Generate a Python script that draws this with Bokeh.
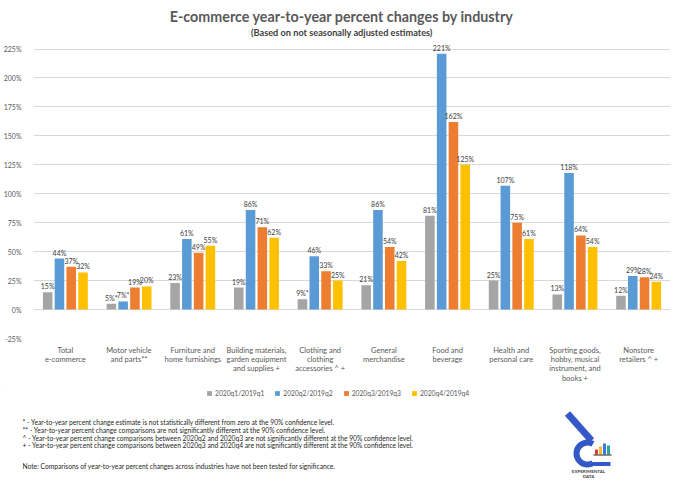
from bokeh.plotting import figure
from bokeh.layouts import column
from bokeh.models import (ColumnDataSource, FactorRange, FixedTicker, Legend,
                          LegendItem, PrintfTickFormatter, Range1d)
from bokeh.transform import dodge
from bokeh.core.properties import value
from bokeh.embed import file_html
from bokeh.resources import INLINE

# categories (tick labels, with the footnote marks of the source)
industries = [
    "Total\ne-commerce",
    "Motor vehicle\nand parts**",
    "Furniture and\nhome furnishings",
    "Building materials,\ngarden equipment\nand supplies +",
    "Clothing and\nclothing\naccessories ^ +",
    "General\nmerchandise",
    "Food and\nbeverage",
    "Health and\npersonal care",
    "Sporting goods,\nhobby, musical\ninstrument, and\nbooks +",
    "Nonstore\nretailers ^ +",
]
periods = ["2020q1/2019q1", "2020q2/2019q2", "2020q3/2019q3", "2020q4/2019q4"]

# percent changes
q1 = [15, 5, 23, 19, 9, 21, 81, 25, 13, 12]
q2 = [44, 7, 61, 86, 46, 86, 221, 107, 118, 29]
q3 = [37, 19, 49, 71, 33, 54, 162, 75, 64, 28]
q4 = [32, 20, 55, 62, 25, 42, 125, 61, 54, 24]

# "*" = not statistically different from zero
q1_marks = ["", "*", "", "", "*", "", "", "", "", ""]
q2_marks = ["", "*", "", "", "", "", "", "", "", ""]
q3_marks = [""] * 10
q4_marks = [""] * 10

y_ticks = [-25, 0, 25, 50, 75, 100, 125, 150, 175, 200, 225]

title = "E-commerce year-to-year percent changes by industry"
subtitle = "(Based on not seasonally adjusted estimates)"
notes = [
    "* - Year-to-year percent change estimate is not statistically different from zero at the 90% confidence level.",
    "** - Year-to-year percent change comparisons are not significantly different at the 90% confidence level.",
    "^ - Year-to-year percent change comparisons between 2020q2 and 2020q3 are not significantly different at the 90% confidence level.",
    "+ - Year-to-year percent change comparisons between 2020q3 and 2020q4 are not significantly different at the 90% confidence level.",
    "Note: Comparisons of year-to-year percent changes across industries have not been tested for significance.",
]

FONT = "Lato"
colors = ["#A5A5A5", "#5B9BD5", "#ED7D31", "#FFC000"]
offsets = [-0.2775, -0.0925, 0.0925, 0.2775]

data = {"industry": industries}
keys = ["q1", "q2", "q3", "q4"]
for k, vals, marks in zip(keys, [q1, q2, q3, q4], [q1_marks, q2_marks, q3_marks, q4_marks]):
    data[k] = vals
    data[k + "_lbl"] = [f"{v}%{m}" for v, m in zip(vals, marks)]
src = ColumnDataSource(data)

W = 680
H1 = 386
p = figure(x_range=FactorRange(*industries, range_padding=0),
           y_range=Range1d(-25, 266.9),
           width=W, height=H1,
           min_border_left=30, min_border_right=10, min_border_top=0, min_border_bottom=48,
           toolbar_location=None, output_backend="svg")
p.outline_line_color = None
p.frame_align = False

for k, c, off in zip(keys, colors, offsets):
    x = dodge("industry", off, range=p.x_range)
    p.vbar(x=x, top=k, bottom=0, width=0.15, source=src,
           fill_color=c, line_color=None)
    p.text(x=x, y=k, text=k + "_lbl", source=src, text_align="center",
           text_baseline="bottom", y_offset=-2, text_font=value(FONT),
           text_font_size="7px", text_color="#404040")

# titles
p.text(x=[4.84], y=[253.1], text=[title], text_align="center", text_baseline="middle",
       text_font=value(FONT), text_font_size="14.3px", text_font_style="bold",
       text_color="#595959")
p.text(x=[4.84], y=[239.2], text=[subtitle], text_align="center", text_baseline="middle",
       text_font=value(FONT), text_font_size="9.2px", text_font_style="bold",
       text_color="#404040")

p.yaxis.ticker = FixedTicker(ticks=y_ticks)
p.yaxis.formatter = PrintfTickFormatter(format="%d%%")
p.yaxis.axis_line_color = None
p.yaxis.major_tick_line_color = None
p.yaxis.minor_tick_line_color = None
p.yaxis.major_label_standoff = 6
p.yaxis.major_label_text_font = FONT
p.yaxis.major_label_text_font_size = "7px"
p.yaxis.major_label_text_color = "#595959"

p.xaxis.axis_line_color = None
p.xaxis.major_tick_line_color = None
p.xaxis.major_label_standoff = 1
p.xaxis.major_label_text_font = FONT
p.xaxis.major_label_text_font_size = "7.5px"
p.xaxis.major_label_text_line_height = 1.05
p.xaxis.major_label_text_color = "#595959"

p.xgrid.visible = False
p.ygrid.grid_line_color = "#D9D9D9"

# legend, footnotes and logo
H2 = 483 - H1
n = figure(width=W, height=H2, x_range=Range1d(0, W), y_range=Range1d(483, H1),
           x_axis_location=None, y_axis_location=None, min_border=0,
           toolbar_location=None, output_backend="svg")
n.grid.visible = False
n.outline_line_color = None
n.frame_align = False

# one swatch per series for the legend, parked outside the view
swatch = ColumnDataSource(dict(x=[-100], top=[-100]))
items = []
for name, c in zip(periods, colors):
    r = n.vbar(x="x", top="top", bottom=-101, width=1, source=swatch,
               fill_color=c, line_color=None)
    items.append(LegendItem(label=name, renderers=[r]))
legend = Legend(items=items, orientation="horizontal", location=(206, H2 - 11),
                label_text_font=FONT, label_text_font_size="6.7px",
                label_text_color="#595959", glyph_width=6, glyph_height=6,
                label_standoff=3, spacing=10, padding=2, margin=0,
                border_line_color=None, background_fill_alpha=0)
n.add_layout(legend)

n.text(x=[22] * 5, y=[421, 429, 437, 444.5, 465], text=notes, text_baseline="middle",
       text_font=value(FONT), text_font_size="6.7px", text_color="#262626")

blue = "#3558C8"
n.line(x=[567, 591], y=[413, 440], line_width=7, line_color=blue)
n.arc(x=[587], y=[453], radius=11, start_angle=1.05, end_angle=5.24,
      line_width=6, line_color=blue)
n.line(x=[589, 610], y=[463.5, 463.5], line_width=4, line_color=blue)
n.vbar(x=[596, 600, 604, 608], top=[449, 446, 443, 445], bottom=454, width=3,
       fill_color=["#E53935", "#F9B92D", "#3C78D8", "#2BA6A0"], line_color=None)
n.line(x=[593, 611], y=[454.5, 454.5], line_width=1, line_color="#222222")
n.text(x=[588, 588], y=[470.5, 475.5], text=["EXPERIMENTAL", "DATA"], text_align="center",
       text_baseline="middle", text_font=value(FONT), text_font_size="4.5px",
       text_font_style="bold", text_color="#444444")

layout = column(p, n, spacing=0)
open("out.html", "w").write(file_html(layout, INLINE))
